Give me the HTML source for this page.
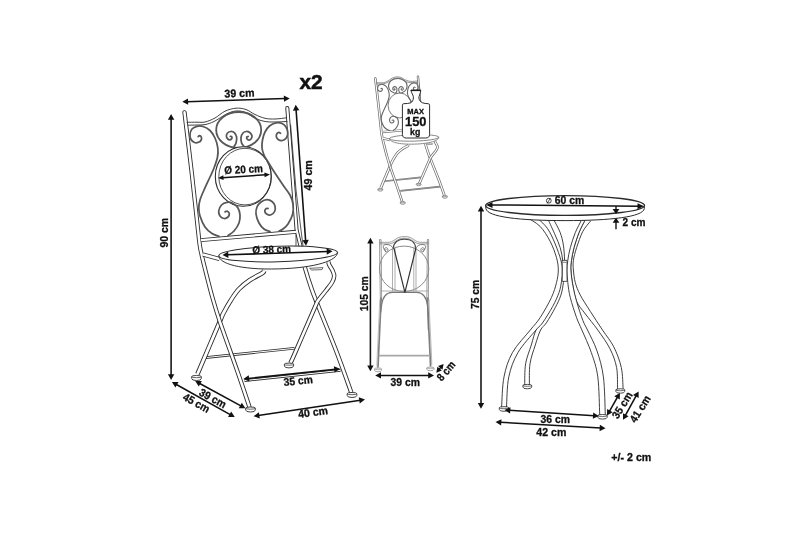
<!DOCTYPE html>
<html><head><meta charset="utf-8"><title>Dimensions</title>
<style>
html,body{margin:0;padding:0;background:#fff;}
body{width:800px;height:533px;overflow:hidden;}
svg{display:block;will-change:transform;}
svg text{font-family:"Liberation Sans",sans-serif;}
</style></head><body>
<svg width="800" height="533" viewBox="0 0 800 533">
<rect width="800" height="533" fill="#fff"/>
<path d="M205.5,357.6 L294.5,348.3" fill="none" stroke="#2b2b2b" stroke-width="2.6" stroke-linecap="butt" stroke-linejoin="round"/>
<path d="M205.5,357.6 L294.5,348.3" fill="none" stroke="#fff" stroke-width="1.0" stroke-linecap="butt" stroke-linejoin="round"/>
<path d="M244.5,380.6 L340.5,370.4" fill="none" stroke="#2b2b2b" stroke-width="2.6" stroke-linecap="butt" stroke-linejoin="round"/>
<path d="M244.5,380.6 L340.5,370.4" fill="none" stroke="#fff" stroke-width="1.0" stroke-linecap="butt" stroke-linejoin="round"/>
<path d="M304.00,262.00 C304.17,263.00 303.67,263.33 305.00,268.00 C306.33,272.67 309.67,283.33 312.00,290.00 C314.33,296.67 314.83,297.50 319.00,308.00 C323.17,318.50 331.62,338.92 337.00,353.00 C342.38,367.08 348.92,385.92 351.30,392.50" fill="none" stroke="#2b2b2b" stroke-width="4.4" stroke-linecap="butt" stroke-linejoin="round"/>
<path d="M304.00,262.00 C304.17,263.00 303.67,263.33 305.00,268.00 C306.33,272.67 309.67,283.33 312.00,290.00 C314.33,296.67 314.83,297.50 319.00,308.00 C323.17,318.50 331.62,338.92 337.00,353.00 C342.38,367.08 348.92,385.92 351.30,392.50" fill="none" stroke="#fff" stroke-width="2.6000000000000005" stroke-linecap="butt" stroke-linejoin="round"/>
<path d="M347.20,393.60 L347.20,395.50 A4.8,2.00 0 0 0 356.80,395.50 L356.80,393.60 A4.8,1.10 0 0 0 347.20,393.60 Z" fill="#fff" stroke="#2b2b2b" stroke-width="0.9"/>
<path d="M347.20,393.60 A4.8,1.10 0 0 0 356.80,393.60" fill="none" stroke="#2b2b2b" stroke-width="0.72"/>
<path d="M328.30,262.00 C328.47,262.50 328.60,263.58 329.30,265.00 C330.00,266.42 331.68,268.67 332.50,270.50 C333.32,272.33 334.28,274.00 334.20,276.00 C334.12,278.00 333.37,280.08 332.00,282.50 C330.63,284.92 328.25,287.58 326.00,290.50 C323.75,293.42 320.33,297.25 318.50,300.00 C316.67,302.75 318.92,298.17 315.00,307.00 C311.08,315.83 299.08,343.67 295.00,353.00 C290.92,362.33 291.25,361.33 290.50,363.00" fill="none" stroke="#2b2b2b" stroke-width="4.4" stroke-linecap="butt" stroke-linejoin="round"/>
<path d="M328.30,262.00 C328.47,262.50 328.60,263.58 329.30,265.00 C330.00,266.42 331.68,268.67 332.50,270.50 C333.32,272.33 334.28,274.00 334.20,276.00 C334.12,278.00 333.37,280.08 332.00,282.50 C330.63,284.92 328.25,287.58 326.00,290.50 C323.75,293.42 320.33,297.25 318.50,300.00 C316.67,302.75 318.92,298.17 315.00,307.00 C311.08,315.83 299.08,343.67 295.00,353.00 C290.92,362.33 291.25,361.33 290.50,363.00" fill="none" stroke="#fff" stroke-width="2.6000000000000005" stroke-linecap="butt" stroke-linejoin="round"/>
<path d="M284.40,364.16 L284.40,365.98 A4.6,1.92 0 0 0 293.60,365.98 L293.60,364.16 A4.6,1.06 0 0 0 284.40,364.16 Z" fill="#fff" stroke="#2b2b2b" stroke-width="0.9"/>
<path d="M284.40,364.16 A4.6,1.06 0 0 0 293.60,364.16" fill="none" stroke="#2b2b2b" stroke-width="0.72"/>
<path d="M264.00,270.50 C263.75,270.92 264.83,271.42 262.50,273.00 C260.17,274.58 253.92,277.33 250.00,280.00 C246.08,282.67 242.17,285.67 239.00,289.00 C235.83,292.33 233.58,296.00 231.00,300.00 C228.42,304.00 225.33,309.50 223.50,313.00 C221.67,316.50 224.33,310.83 220.00,321.00 C215.67,331.17 201.25,365.17 197.50,374.00" fill="none" stroke="#2b2b2b" stroke-width="4.6" stroke-linecap="butt" stroke-linejoin="round"/>
<path d="M264.00,270.50 C263.75,270.92 264.83,271.42 262.50,273.00 C260.17,274.58 253.92,277.33 250.00,280.00 C246.08,282.67 242.17,285.67 239.00,289.00 C235.83,292.33 233.58,296.00 231.00,300.00 C228.42,304.00 225.33,309.50 223.50,313.00 C221.67,316.50 224.33,310.83 220.00,321.00 C215.67,331.17 201.25,365.17 197.50,374.00" fill="none" stroke="#fff" stroke-width="2.8" stroke-linecap="butt" stroke-linejoin="round"/>
<path d="M191.70,376.60 L191.70,378.50 A4.8,2.00 0 0 0 201.30,378.50 L201.30,376.60 A4.8,1.10 0 0 0 191.70,376.60 Z" fill="#fff" stroke="#2b2b2b" stroke-width="0.9"/>
<path d="M191.70,376.60 A4.8,1.10 0 0 0 201.30,376.60" fill="none" stroke="#2b2b2b" stroke-width="0.72"/>
<path d="M184.50,112.30 C185.75,122.75 189.58,153.88 192.00,175.00 C194.42,196.12 197.42,225.83 199.00,239.00 C200.58,252.17 200.45,248.83 201.50,254.00 C202.55,259.17 203.50,262.83 205.30,270.00 C207.10,277.17 209.85,288.33 212.30,297.00 C214.75,305.67 215.72,309.33 220.00,322.00 C224.28,334.67 233.12,358.92 238.00,373.00 C242.88,387.08 247.42,400.92 249.30,406.50" fill="none" stroke="#2b2b2b" stroke-width="4.3" stroke-linecap="round" stroke-linejoin="round"/>
<path d="M184.50,112.30 C185.75,122.75 189.58,153.88 192.00,175.00 C194.42,196.12 197.42,225.83 199.00,239.00 C200.58,252.17 200.45,248.83 201.50,254.00 C202.55,259.17 203.50,262.83 205.30,270.00 C207.10,277.17 209.85,288.33 212.30,297.00 C214.75,305.67 215.72,309.33 220.00,322.00 C224.28,334.67 233.12,358.92 238.00,373.00 C242.88,387.08 247.42,400.92 249.30,406.50" fill="none" stroke="#fff" stroke-width="2.5" stroke-linecap="round" stroke-linejoin="round"/>
<path d="M245.70,408.10 L245.70,410.00 A4.8,2.00 0 0 0 255.30,410.00 L255.30,408.10 A4.8,1.10 0 0 0 245.70,408.10 Z" fill="#fff" stroke="#2b2b2b" stroke-width="0.9"/>
<path d="M245.70,408.10 A4.8,1.10 0 0 0 255.30,408.10" fill="none" stroke="#2b2b2b" stroke-width="0.72"/>
<path d="M287.3,108 L296.6,230 L300.5,246" fill="none" stroke="#2b2b2b" stroke-width="4.0" stroke-linecap="round" stroke-linejoin="round"/>
<path d="M287.3,108 L296.6,230 L300.5,246" fill="none" stroke="#fff" stroke-width="2.2" stroke-linecap="round" stroke-linejoin="round"/>
<path d="M290.6,125 L296,190 L300.9,229 L303,246" fill="none" stroke="#2b2b2b" stroke-width="0.8" stroke-linecap="round" stroke-linejoin="round"/>
<path d="M201,240.1 L296,231.8" fill="none" stroke="#2b2b2b" stroke-width="3.9" stroke-linecap="butt" stroke-linejoin="round"/>
<path d="M201,240.1 L296,231.8" fill="none" stroke="#fff" stroke-width="2.3" stroke-linecap="butt" stroke-linejoin="round"/>
<path d="M203,254.5 L219.5,259" fill="none" stroke="#2b2b2b" stroke-width="4.2" stroke-linecap="butt" stroke-linejoin="round"/>
<path d="M203,254.5 L219.5,259" fill="none" stroke="#fff" stroke-width="2.6" stroke-linecap="butt" stroke-linejoin="round"/>
<path d="M296,235 L296,246" fill="none" stroke="#2b2b2b" stroke-width="0.8" stroke-linecap="round" stroke-linejoin="round"/>
<g transform="rotate(-1.6 278 256)">
<path d="M218.9,254 C218.9,262 240,268.9 278,268.9 C316,268.9 337.5,262 337.5,254 Z" fill="#fff" stroke="#2b2b2b" stroke-width="0.95"/>
<ellipse cx="278.2" cy="254" rx="59.3" ry="7.7" fill="#fff" stroke="#2b2b2b" stroke-width="1.0"/>
</g>
<path d="M310,268.3 L323,267.6 L322,269.6 L312,270 Z" fill="none" stroke="#2b2b2b" stroke-width="0.7" stroke-linecap="round" stroke-linejoin="round"/>
<path d="M187.00,122.30 C188.67,122.28 194.00,122.25 197.00,122.20 C200.00,122.15 202.00,122.70 205.00,122.00 C208.00,121.30 211.67,119.80 215.00,118.00 C218.33,116.20 221.50,112.83 225.00,111.20 C228.50,109.57 232.50,108.48 236.00,108.20 C239.50,107.92 242.83,108.45 246.00,109.50 C249.17,110.55 251.83,113.03 255.00,114.50 C258.17,115.97 261.67,117.55 265.00,118.30 C268.33,119.05 271.42,119.08 275.00,119.00 C278.58,118.92 284.58,118.00 286.50,117.80" fill="none" stroke="#2b2b2b" stroke-width="0.9" stroke-linecap="round" stroke-linejoin="round"/>
<path d="M188.00,125.20 C189.50,125.17 194.17,125.10 197.00,125.00 C199.83,124.90 202.17,125.18 205.00,124.60 C207.83,124.02 210.33,123.30 214.00,121.50 C217.67,119.70 223.33,115.55 227.00,113.80 C230.67,112.05 233.00,111.25 236.00,111.00 C239.00,110.75 241.83,111.08 245.00,112.30 C248.17,113.52 251.67,116.77 255.00,118.30 C258.33,119.83 261.67,120.88 265.00,121.50 C268.33,122.12 271.33,122.00 275.00,122.00 C278.67,122.00 285.00,121.58 287.00,121.50" fill="none" stroke="#2b2b2b" stroke-width="0.9" stroke-linecap="round" stroke-linejoin="round"/>
<ellipse cx="238.7" cy="130" rx="22.5" ry="18" fill="none" stroke="#575757" stroke-width="1.8"/>
<ellipse cx="243.3" cy="176.5" rx="28" ry="29.8" fill="#fff" stroke="#2b2b2b" stroke-width="1.1"/>
<ellipse cx="245" cy="176.6" rx="26.2" ry="28.3" fill="none" stroke="#2b2b2b" stroke-width="0.8"/>
<path d="M234.00,146.50 C234.33,145.92 235.57,144.58 236.00,143.00 C236.43,141.42 236.85,138.70 236.60,137.00 C236.35,135.30 235.43,133.72 234.50,132.80 C233.57,131.88 232.17,131.47 231.00,131.50 C229.83,131.53 228.27,132.20 227.50,133.00 C226.73,133.80 226.35,135.30 226.40,136.30 C226.45,137.30 227.20,138.42 227.80,139.00 C228.40,139.58 229.33,139.88 230.00,139.80 C230.67,139.72 231.53,139.03 231.80,138.50 C232.07,137.97 231.85,136.95 231.60,136.60 C231.35,136.25 230.52,136.43 230.30,136.40" fill="none" stroke="#575757" stroke-width="1.75" stroke-linecap="round" stroke-linejoin="round"/>
<path d="M244.00,146.30 C243.60,145.75 242.10,144.47 241.60,143.00 C241.10,141.53 240.77,139.17 241.00,137.50 C241.23,135.83 242.12,134.00 243.00,133.00 C243.88,132.00 245.13,131.53 246.30,131.50 C247.47,131.47 249.05,132.05 250.00,132.80 C250.95,133.55 251.83,134.97 252.00,136.00 C252.17,137.03 251.50,138.33 251.00,139.00 C250.50,139.67 249.67,140.00 249.00,140.00 C248.33,140.00 247.37,139.50 247.00,139.00 C246.63,138.50 246.60,137.42 246.80,137.00 C247.00,136.58 247.97,136.58 248.20,136.50" fill="none" stroke="#575757" stroke-width="1.75" stroke-linecap="round" stroke-linejoin="round"/>
<path d="M198.20,136.60 C198.42,136.43 198.98,135.53 199.50,135.60 C200.02,135.67 201.02,136.27 201.30,137.00 C201.58,137.73 201.67,139.12 201.20,140.00 C200.73,140.88 199.62,141.88 198.50,142.30 C197.38,142.72 195.75,142.97 194.50,142.50 C193.25,142.03 191.75,140.83 191.00,139.50 C190.25,138.17 189.83,136.25 190.00,134.50 C190.17,132.75 190.83,130.37 192.00,129.00 C193.17,127.63 195.17,126.72 197.00,126.30 C198.83,125.88 200.83,125.80 203.00,126.50 C205.17,127.20 208.00,128.58 210.00,130.50 C212.00,132.42 213.70,135.08 215.00,138.00 C216.30,140.92 217.38,144.83 217.80,148.00 C218.22,151.17 218.13,153.67 217.50,157.00 C216.87,160.33 215.25,164.67 214.00,168.00 C212.75,171.33 211.67,173.33 210.00,177.00 C208.33,180.67 205.67,186.17 204.00,190.00 C202.33,193.83 200.87,197.00 200.00,200.00 C199.13,203.00 198.80,205.33 198.80,208.00 C198.80,210.67 198.97,212.83 200.00,216.00 C201.03,219.17 203.00,224.08 205.00,227.00 C207.00,229.92 209.67,231.95 212.00,233.50 C214.33,235.05 217.83,235.83 219.00,236.30" fill="none" stroke="#575757" stroke-width="1.75" stroke-linecap="round" stroke-linejoin="round"/>
<path d="M228.00,235.60 C229.00,234.83 232.17,233.10 234.00,231.00 C235.83,228.90 238.00,225.67 239.00,223.00 C240.00,220.33 240.17,217.50 240.00,215.00 C239.83,212.50 239.17,209.92 238.00,208.00 C236.83,206.08 234.83,204.45 233.00,203.50 C231.17,202.55 228.92,202.05 227.00,202.30 C225.08,202.55 222.88,203.55 221.50,205.00 C220.12,206.45 218.95,209.17 218.70,211.00 C218.45,212.83 219.12,214.75 220.00,216.00 C220.88,217.25 222.67,218.33 224.00,218.50 C225.33,218.67 227.12,217.83 228.00,217.00 C228.88,216.17 229.42,214.47 229.30,213.50 C229.18,212.53 228.02,211.48 227.30,211.20 C226.58,210.92 225.38,211.70 225.00,211.80" fill="none" stroke="#575757" stroke-width="1.75" stroke-linecap="round" stroke-linejoin="round"/>
<path d="M280.50,133.30 C280.25,133.13 279.58,132.27 279.00,132.30 C278.42,132.33 277.45,132.80 277.00,133.50 C276.55,134.20 276.05,135.45 276.30,136.50 C276.55,137.55 277.47,139.13 278.50,139.80 C279.53,140.47 281.20,140.80 282.50,140.50 C283.80,140.20 285.42,139.25 286.30,138.00 C287.18,136.75 287.85,134.83 287.80,133.00 C287.75,131.17 286.97,128.58 286.00,127.00 C285.03,125.42 283.67,124.20 282.00,123.50 C280.33,122.80 278.08,122.38 276.00,122.80 C273.92,123.22 271.33,124.47 269.50,126.00 C267.67,127.53 266.17,129.67 265.00,132.00 C263.83,134.33 263.00,137.33 262.50,140.00 C262.00,142.67 261.75,145.50 262.00,148.00 C262.25,150.50 263.08,152.83 264.00,155.00 C264.92,157.17 266.00,158.50 267.50,161.00 C269.00,163.50 270.42,166.00 273.00,170.00 C275.58,174.00 280.17,180.83 283.00,185.00 C285.83,189.17 288.33,191.83 290.00,195.00 C291.67,198.17 292.55,200.83 293.00,204.00 C293.45,207.17 293.53,210.67 292.70,214.00 C291.87,217.33 289.62,221.50 288.00,224.00 C286.38,226.50 284.50,227.80 283.00,229.00 C281.50,230.20 279.67,230.83 279.00,231.20" fill="none" stroke="#575757" stroke-width="1.75" stroke-linecap="round" stroke-linejoin="round"/>
<path d="M270.00,231.60 C269.00,231.17 265.83,230.43 264.00,229.00 C262.17,227.57 260.33,225.50 259.00,223.00 C257.67,220.50 256.33,216.67 256.00,214.00 C255.67,211.33 256.17,209.00 257.00,207.00 C257.83,205.00 259.33,203.23 261.00,202.00 C262.67,200.77 265.17,199.68 267.00,199.60 C268.83,199.52 270.67,200.43 272.00,201.50 C273.33,202.57 274.57,204.33 275.00,206.00 C275.43,207.67 275.27,210.03 274.60,211.50 C273.93,212.97 272.27,214.33 271.00,214.80 C269.73,215.27 268.03,214.85 267.00,214.30 C265.97,213.75 265.00,212.42 264.80,211.50 C264.60,210.58 265.27,209.30 265.80,208.80 C266.33,208.30 267.63,208.55 268.00,208.50" fill="none" stroke="#575757" stroke-width="1.75" stroke-linecap="round" stroke-linejoin="round"/>
<line x1="186.94" y1="101.65" x2="285.06" y2="98.55" stroke="#111" stroke-width="1.55"/>
<polygon points="182.30,101.80 188.20,104.81 188.00,98.42" fill="#111"/>
<polygon points="289.70,98.40 284.00,101.78 283.80,95.39" fill="#111"/>
<text x="239.6" y="97" font-size="11" font-weight="bold" text-anchor="middle" fill="#111" stroke="#111" stroke-width="0.3" textLength="30" lengthAdjust="spacingAndGlyphs" transform="rotate(-2 239.6 97)">39 cm</text>
<text x="299.4" y="89" font-size="19.8" font-weight="bold" fill="#111" stroke="#111" stroke-width="0.5" textLength="23.2" lengthAdjust="spacingAndGlyphs">x2</text>
<line x1="296.04" y1="109.43" x2="305.66" y2="241.17" stroke="#111" stroke-width="1.55"/>
<polygon points="295.70,104.80 292.93,110.82 299.31,110.35" fill="#111"/>
<polygon points="306.00,245.80 302.39,240.25 308.77,239.78" fill="#111"/>
<text x="312" y="175.3" font-size="11" font-weight="bold" text-anchor="middle" fill="#111" stroke="#111" stroke-width="0.3" textLength="30.3" lengthAdjust="spacingAndGlyphs" transform="rotate(-90 312 175.3)">49 cm</text>
<line x1="171.10" y1="118.54" x2="171.10" y2="375.36" stroke="#111" stroke-width="1.55"/>
<polygon points="171.10,113.90 167.90,119.70 174.30,119.70" fill="#111"/>
<polygon points="171.10,380.00 167.90,374.20 174.30,374.20" fill="#111"/>
<text x="168.4" y="232.7" font-size="11" font-weight="bold" text-anchor="middle" fill="#111" stroke="#111" stroke-width="0.3" textLength="29.6" lengthAdjust="spacingAndGlyphs" transform="rotate(-90 168.4 232.7)">90 cm</text>
<line x1="222.39" y1="177.70" x2="265.61" y2="174.80" stroke="#111" stroke-width="1.55"/>
<polygon points="218.00,178.00 223.65,180.03 223.33,175.24" fill="#111"/>
<polygon points="270.00,174.50 264.67,177.26 264.35,172.47" fill="#111"/>
<text x="243.8" y="173" font-size="10.8" font-weight="bold" text-anchor="middle" fill="#111" stroke="#111" stroke-width="0.3" textLength="38.5" lengthAdjust="spacingAndGlyphs" transform="rotate(-3 243.8 173)">Ø 20 cm</text>
<line x1="227.14" y1="254.84" x2="327.86" y2="251.46" stroke="#111" stroke-width="1.55"/>
<polygon points="222.50,255.00 228.40,258.00 228.19,251.61" fill="#111"/>
<polygon points="332.50,251.30 326.81,254.69 326.60,248.30" fill="#111"/>
<text x="271.8" y="253.2" font-size="10.8" font-weight="bold" text-anchor="middle" fill="#111" stroke="#111" stroke-width="0.3" textLength="38.5" lengthAdjust="spacingAndGlyphs" transform="rotate(-2 271.8 253.2)">Ø 38 cm</text>
<line x1="247.91" y1="378.51" x2="335.39" y2="369.29" stroke="#111" stroke-width="1.55"/>
<polygon points="243.30,379.00 249.40,381.57 248.73,375.21" fill="#111"/>
<polygon points="340.00,368.80 334.57,372.59 333.90,366.23" fill="#111"/>
<text x="298.5" y="384.6" font-size="11" font-weight="bold" text-anchor="middle" fill="#111" stroke="#111" stroke-width="0.3" textLength="29.3" lengthAdjust="spacingAndGlyphs" transform="rotate(-5.6 298.5 384.6)">35 cm</text>
<line x1="199.28" y1="383.22" x2="241.32" y2="406.08" stroke="#111" stroke-width="1.55"/>
<polygon points="195.20,381.00 198.77,386.58 201.82,380.96" fill="#111"/>
<polygon points="245.40,408.30 238.78,408.34 241.83,402.72" fill="#111"/>
<text x="211" y="401.6" font-size="11" font-weight="bold" text-anchor="middle" fill="#111" stroke="#111" stroke-width="0.3" textLength="29" lengthAdjust="spacingAndGlyphs" transform="rotate(28.5 211 401.6)">39 cm</text>
<line x1="175.95" y1="384.26" x2="230.65" y2="414.84" stroke="#111" stroke-width="1.55"/>
<polygon points="171.90,382.00 175.40,387.62 178.52,382.04" fill="#111"/>
<polygon points="234.70,417.10 228.08,417.06 231.20,411.48" fill="#111"/>
<text x="194.6" y="406.2" font-size="11" font-weight="bold" text-anchor="middle" fill="#111" stroke="#111" stroke-width="0.3" textLength="29" lengthAdjust="spacingAndGlyphs" transform="rotate(29 194.6 406.2)">45 cm</text>
<line x1="258.19" y1="415.51" x2="360.41" y2="400.19" stroke="#111" stroke-width="1.55"/>
<polygon points="253.60,416.20 259.81,418.50 258.86,412.18" fill="#111"/>
<polygon points="365.00,399.50 359.74,403.52 358.79,397.20" fill="#111"/>
<text x="313.5" y="416" font-size="11" font-weight="bold" text-anchor="middle" fill="#111" stroke="#111" stroke-width="0.3" textLength="30" lengthAdjust="spacingAndGlyphs" transform="rotate(-8 313.5 416)">40 cm</text>
<g transform="translate(298.75,31.6) scale(0.415,0.4185)">
<path d="M205.5,357.6 L294.5,348.3" fill="none" stroke="#6c6c6c" stroke-width="3.77" stroke-linecap="butt" stroke-linejoin="round"/>
<path d="M205.5,357.6 L294.5,348.3" fill="none" stroke="#fff" stroke-width="0.6499999999999999" stroke-linecap="butt" stroke-linejoin="round"/>
<path d="M244.5,380.6 L340.5,370.4" fill="none" stroke="#6c6c6c" stroke-width="3.77" stroke-linecap="butt" stroke-linejoin="round"/>
<path d="M244.5,380.6 L340.5,370.4" fill="none" stroke="#fff" stroke-width="0.6499999999999999" stroke-linecap="butt" stroke-linejoin="round"/>
<path d="M304.00,262.00 C304.17,263.00 303.67,263.33 305.00,268.00 C306.33,272.67 309.67,283.33 312.00,290.00 C314.33,296.67 314.83,297.50 319.00,308.00 C323.17,318.50 331.62,338.92 337.00,353.00 C342.38,367.08 348.92,385.92 351.30,392.50" fill="none" stroke="#6c6c6c" stroke-width="6.38" stroke-linecap="butt" stroke-linejoin="round"/>
<path d="M304.00,262.00 C304.17,263.00 303.67,263.33 305.00,268.00 C306.33,272.67 309.67,283.33 312.00,290.00 C314.33,296.67 314.83,297.50 319.00,308.00 C323.17,318.50 331.62,338.92 337.00,353.00 C342.38,367.08 348.92,385.92 351.30,392.50" fill="none" stroke="#fff" stroke-width="2.87" stroke-linecap="butt" stroke-linejoin="round"/>
<path d="M346.12,393.29 L346.12,395.61 A5.88,2.45 0 0 0 357.88,395.61 L357.88,393.29 A5.88,1.35 0 0 0 346.12,393.29 Z" fill="#fff" stroke="#6c6c6c" stroke-width="1.755"/>
<path d="M346.12,393.29 A5.88,1.35 0 0 0 357.88,393.29" fill="none" stroke="#6c6c6c" stroke-width="1.40"/>
<path d="M328.30,262.00 C328.47,262.50 328.60,263.58 329.30,265.00 C330.00,266.42 331.68,268.67 332.50,270.50 C333.32,272.33 334.28,274.00 334.20,276.00 C334.12,278.00 333.37,280.08 332.00,282.50 C330.63,284.92 328.25,287.58 326.00,290.50 C323.75,293.42 320.33,297.25 318.50,300.00 C316.67,302.75 318.92,298.17 315.00,307.00 C311.08,315.83 299.08,343.67 295.00,353.00 C290.92,362.33 291.25,361.33 290.50,363.00" fill="none" stroke="#6c6c6c" stroke-width="6.38" stroke-linecap="butt" stroke-linejoin="round"/>
<path d="M328.30,262.00 C328.47,262.50 328.60,263.58 329.30,265.00 C330.00,266.42 331.68,268.67 332.50,270.50 C333.32,272.33 334.28,274.00 334.20,276.00 C334.12,278.00 333.37,280.08 332.00,282.50 C330.63,284.92 328.25,287.58 326.00,290.50 C323.75,293.42 320.33,297.25 318.50,300.00 C316.67,302.75 318.92,298.17 315.00,307.00 C311.08,315.83 299.08,343.67 295.00,353.00 C290.92,362.33 291.25,361.33 290.50,363.00" fill="none" stroke="#fff" stroke-width="2.87" stroke-linecap="butt" stroke-linejoin="round"/>
<path d="M283.37,363.85 L283.37,366.09 A5.635,2.35 0 0 0 294.63,366.09 L294.63,363.85 A5.635,1.29 0 0 0 283.37,363.85 Z" fill="#fff" stroke="#6c6c6c" stroke-width="1.755"/>
<path d="M283.37,363.85 A5.635,1.29 0 0 0 294.63,363.85" fill="none" stroke="#6c6c6c" stroke-width="1.40"/>
<path d="M264.00,270.50 C263.75,270.92 264.83,271.42 262.50,273.00 C260.17,274.58 253.92,277.33 250.00,280.00 C246.08,282.67 242.17,285.67 239.00,289.00 C235.83,292.33 233.58,296.00 231.00,300.00 C228.42,304.00 225.33,309.50 223.50,313.00 C221.67,316.50 224.33,310.83 220.00,321.00 C215.67,331.17 201.25,365.17 197.50,374.00" fill="none" stroke="#6c6c6c" stroke-width="6.669999999999999" stroke-linecap="butt" stroke-linejoin="round"/>
<path d="M264.00,270.50 C263.75,270.92 264.83,271.42 262.50,273.00 C260.17,274.58 253.92,277.33 250.00,280.00 C246.08,282.67 242.17,285.67 239.00,289.00 C235.83,292.33 233.58,296.00 231.00,300.00 C228.42,304.00 225.33,309.50 223.50,313.00 C221.67,316.50 224.33,310.83 220.00,321.00 C215.67,331.17 201.25,365.17 197.50,374.00" fill="none" stroke="#fff" stroke-width="3.1599999999999993" stroke-linecap="butt" stroke-linejoin="round"/>
<path d="M190.62,376.29 L190.62,378.61 A5.88,2.45 0 0 0 202.38,378.61 L202.38,376.29 A5.88,1.35 0 0 0 190.62,376.29 Z" fill="#fff" stroke="#6c6c6c" stroke-width="1.755"/>
<path d="M190.62,376.29 A5.88,1.35 0 0 0 202.38,376.29" fill="none" stroke="#6c6c6c" stroke-width="1.40"/>
<path d="M184.50,112.30 C185.75,122.75 189.58,153.88 192.00,175.00 C194.42,196.12 197.42,225.83 199.00,239.00 C200.58,252.17 200.45,248.83 201.50,254.00 C202.55,259.17 203.50,262.83 205.30,270.00 C207.10,277.17 209.85,288.33 212.30,297.00 C214.75,305.67 215.72,309.33 220.00,322.00 C224.28,334.67 233.12,358.92 238.00,373.00 C242.88,387.08 247.42,400.92 249.30,406.50" fill="none" stroke="#6c6c6c" stroke-width="6.234999999999999" stroke-linecap="round" stroke-linejoin="round"/>
<path d="M184.50,112.30 C185.75,122.75 189.58,153.88 192.00,175.00 C194.42,196.12 197.42,225.83 199.00,239.00 C200.58,252.17 200.45,248.83 201.50,254.00 C202.55,259.17 203.50,262.83 205.30,270.00 C207.10,277.17 209.85,288.33 212.30,297.00 C214.75,305.67 215.72,309.33 220.00,322.00 C224.28,334.67 233.12,358.92 238.00,373.00 C242.88,387.08 247.42,400.92 249.30,406.50" fill="none" stroke="#fff" stroke-width="2.7249999999999996" stroke-linecap="round" stroke-linejoin="round"/>
<path d="M244.62,407.79 L244.62,410.11 A5.88,2.45 0 0 0 256.38,410.11 L256.38,407.79 A5.88,1.35 0 0 0 244.62,407.79 Z" fill="#fff" stroke="#6c6c6c" stroke-width="1.755"/>
<path d="M244.62,407.79 A5.88,1.35 0 0 0 256.38,407.79" fill="none" stroke="#6c6c6c" stroke-width="1.40"/>
<path d="M287.3,108 L296.6,230 L300.5,246" fill="none" stroke="#6c6c6c" stroke-width="5.8" stroke-linecap="round" stroke-linejoin="round"/>
<path d="M287.3,108 L296.6,230 L300.5,246" fill="none" stroke="#fff" stroke-width="2.29" stroke-linecap="round" stroke-linejoin="round"/>
<path d="M290.6,125 L296,190 L300.9,229 L303,246" fill="none" stroke="#6c6c6c" stroke-width="1.56" stroke-linecap="round" stroke-linejoin="round"/>
<path d="M201,240.1 L296,231.8" fill="none" stroke="#6c6c6c" stroke-width="5.654999999999999" stroke-linecap="butt" stroke-linejoin="round"/>
<path d="M201,240.1 L296,231.8" fill="none" stroke="#fff" stroke-width="2.5349999999999993" stroke-linecap="butt" stroke-linejoin="round"/>
<path d="M203,254.5 L219.5,259" fill="none" stroke="#6c6c6c" stroke-width="6.09" stroke-linecap="butt" stroke-linejoin="round"/>
<path d="M203,254.5 L219.5,259" fill="none" stroke="#fff" stroke-width="2.9699999999999998" stroke-linecap="butt" stroke-linejoin="round"/>
<path d="M296,235 L296,246" fill="none" stroke="#6c6c6c" stroke-width="1.56" stroke-linecap="round" stroke-linejoin="round"/>
<g transform="rotate(-1.6 278 256)">
<path d="M218.9,254 C218.9,262 240,268.9 278,268.9 C316,268.9 337.5,262 337.5,254 Z" fill="#fff" stroke="#6c6c6c" stroke-width="1.8524999999999998"/>
<ellipse cx="278.2" cy="254" rx="59.3" ry="7.7" fill="#fff" stroke="#6c6c6c" stroke-width="1.95"/>
</g>
<path d="M310,268.3 L323,267.6 L322,269.6 L312,270 Z" fill="none" stroke="#6c6c6c" stroke-width="1.365" stroke-linecap="round" stroke-linejoin="round"/>
<path d="M187.00,122.30 C188.67,122.28 194.00,122.25 197.00,122.20 C200.00,122.15 202.00,122.70 205.00,122.00 C208.00,121.30 211.67,119.80 215.00,118.00 C218.33,116.20 221.50,112.83 225.00,111.20 C228.50,109.57 232.50,108.48 236.00,108.20 C239.50,107.92 242.83,108.45 246.00,109.50 C249.17,110.55 251.83,113.03 255.00,114.50 C258.17,115.97 261.67,117.55 265.00,118.30 C268.33,119.05 271.42,119.08 275.00,119.00 C278.58,118.92 284.58,118.00 286.50,117.80" fill="none" stroke="#6c6c6c" stroke-width="1.755" stroke-linecap="round" stroke-linejoin="round"/>
<path d="M188.00,125.20 C189.50,125.17 194.17,125.10 197.00,125.00 C199.83,124.90 202.17,125.18 205.00,124.60 C207.83,124.02 210.33,123.30 214.00,121.50 C217.67,119.70 223.33,115.55 227.00,113.80 C230.67,112.05 233.00,111.25 236.00,111.00 C239.00,110.75 241.83,111.08 245.00,112.30 C248.17,113.52 251.67,116.77 255.00,118.30 C258.33,119.83 261.67,120.88 265.00,121.50 C268.33,122.12 271.33,122.00 275.00,122.00 C278.67,122.00 285.00,121.58 287.00,121.50" fill="none" stroke="#6c6c6c" stroke-width="1.755" stroke-linecap="round" stroke-linejoin="round"/>
<ellipse cx="238.7" cy="130" rx="22.5" ry="18" fill="none" stroke="#646464" stroke-width="2.7"/>
<ellipse cx="243.3" cy="176.5" rx="28" ry="29.8" fill="#fff" stroke="#6c6c6c" stroke-width="2.145"/>
<path d="M234.00,146.50 C234.33,145.92 235.57,144.58 236.00,143.00 C236.43,141.42 236.85,138.70 236.60,137.00 C236.35,135.30 235.43,133.72 234.50,132.80 C233.57,131.88 232.17,131.47 231.00,131.50 C229.83,131.53 228.27,132.20 227.50,133.00 C226.73,133.80 226.35,135.30 226.40,136.30 C226.45,137.30 227.20,138.42 227.80,139.00 C228.40,139.58 229.33,139.88 230.00,139.80 C230.67,139.72 231.53,139.03 231.80,138.50 C232.07,137.97 231.85,136.95 231.60,136.60 C231.35,136.25 230.52,136.43 230.30,136.40" fill="none" stroke="#646464" stroke-width="2.625" stroke-linecap="round" stroke-linejoin="round"/>
<path d="M244.00,146.30 C243.60,145.75 242.10,144.47 241.60,143.00 C241.10,141.53 240.77,139.17 241.00,137.50 C241.23,135.83 242.12,134.00 243.00,133.00 C243.88,132.00 245.13,131.53 246.30,131.50 C247.47,131.47 249.05,132.05 250.00,132.80 C250.95,133.55 251.83,134.97 252.00,136.00 C252.17,137.03 251.50,138.33 251.00,139.00 C250.50,139.67 249.67,140.00 249.00,140.00 C248.33,140.00 247.37,139.50 247.00,139.00 C246.63,138.50 246.60,137.42 246.80,137.00 C247.00,136.58 247.97,136.58 248.20,136.50" fill="none" stroke="#646464" stroke-width="2.625" stroke-linecap="round" stroke-linejoin="round"/>
<path d="M198.20,136.60 C198.42,136.43 198.98,135.53 199.50,135.60 C200.02,135.67 201.02,136.27 201.30,137.00 C201.58,137.73 201.67,139.12 201.20,140.00 C200.73,140.88 199.62,141.88 198.50,142.30 C197.38,142.72 195.75,142.97 194.50,142.50 C193.25,142.03 191.75,140.83 191.00,139.50 C190.25,138.17 189.83,136.25 190.00,134.50 C190.17,132.75 190.83,130.37 192.00,129.00 C193.17,127.63 195.17,126.72 197.00,126.30 C198.83,125.88 200.83,125.80 203.00,126.50 C205.17,127.20 208.00,128.58 210.00,130.50 C212.00,132.42 213.70,135.08 215.00,138.00 C216.30,140.92 217.38,144.83 217.80,148.00 C218.22,151.17 218.13,153.67 217.50,157.00 C216.87,160.33 215.25,164.67 214.00,168.00 C212.75,171.33 211.67,173.33 210.00,177.00 C208.33,180.67 205.67,186.17 204.00,190.00 C202.33,193.83 200.87,197.00 200.00,200.00 C199.13,203.00 198.80,205.33 198.80,208.00 C198.80,210.67 198.97,212.83 200.00,216.00 C201.03,219.17 203.00,224.08 205.00,227.00 C207.00,229.92 209.67,231.95 212.00,233.50 C214.33,235.05 217.83,235.83 219.00,236.30" fill="none" stroke="#646464" stroke-width="2.625" stroke-linecap="round" stroke-linejoin="round"/>
<path d="M228.00,235.60 C229.00,234.83 232.17,233.10 234.00,231.00 C235.83,228.90 238.00,225.67 239.00,223.00 C240.00,220.33 240.17,217.50 240.00,215.00 C239.83,212.50 239.17,209.92 238.00,208.00 C236.83,206.08 234.83,204.45 233.00,203.50 C231.17,202.55 228.92,202.05 227.00,202.30 C225.08,202.55 222.88,203.55 221.50,205.00 C220.12,206.45 218.95,209.17 218.70,211.00 C218.45,212.83 219.12,214.75 220.00,216.00 C220.88,217.25 222.67,218.33 224.00,218.50 C225.33,218.67 227.12,217.83 228.00,217.00 C228.88,216.17 229.42,214.47 229.30,213.50 C229.18,212.53 228.02,211.48 227.30,211.20 C226.58,210.92 225.38,211.70 225.00,211.80" fill="none" stroke="#646464" stroke-width="2.625" stroke-linecap="round" stroke-linejoin="round"/>
<path d="M280.50,133.30 C280.25,133.13 279.58,132.27 279.00,132.30 C278.42,132.33 277.45,132.80 277.00,133.50 C276.55,134.20 276.05,135.45 276.30,136.50 C276.55,137.55 277.47,139.13 278.50,139.80 C279.53,140.47 281.20,140.80 282.50,140.50 C283.80,140.20 285.42,139.25 286.30,138.00 C287.18,136.75 287.85,134.83 287.80,133.00 C287.75,131.17 286.97,128.58 286.00,127.00 C285.03,125.42 283.67,124.20 282.00,123.50 C280.33,122.80 278.08,122.38 276.00,122.80 C273.92,123.22 271.33,124.47 269.50,126.00 C267.67,127.53 266.17,129.67 265.00,132.00 C263.83,134.33 263.00,137.33 262.50,140.00 C262.00,142.67 261.75,145.50 262.00,148.00 C262.25,150.50 263.08,152.83 264.00,155.00 C264.92,157.17 266.00,158.50 267.50,161.00 C269.00,163.50 270.42,166.00 273.00,170.00 C275.58,174.00 280.17,180.83 283.00,185.00 C285.83,189.17 288.33,191.83 290.00,195.00 C291.67,198.17 292.55,200.83 293.00,204.00 C293.45,207.17 293.53,210.67 292.70,214.00 C291.87,217.33 289.62,221.50 288.00,224.00 C286.38,226.50 284.50,227.80 283.00,229.00 C281.50,230.20 279.67,230.83 279.00,231.20" fill="none" stroke="#646464" stroke-width="2.625" stroke-linecap="round" stroke-linejoin="round"/>
<path d="M270.00,231.60 C269.00,231.17 265.83,230.43 264.00,229.00 C262.17,227.57 260.33,225.50 259.00,223.00 C257.67,220.50 256.33,216.67 256.00,214.00 C255.67,211.33 256.17,209.00 257.00,207.00 C257.83,205.00 259.33,203.23 261.00,202.00 C262.67,200.77 265.17,199.68 267.00,199.60 C268.83,199.52 270.67,200.43 272.00,201.50 C273.33,202.57 274.57,204.33 275.00,206.00 C275.43,207.67 275.27,210.03 274.60,211.50 C273.93,212.97 272.27,214.33 271.00,214.80 C269.73,215.27 268.03,214.85 267.00,214.30 C265.97,213.75 265.00,212.42 264.80,211.50 C264.60,210.58 265.27,209.30 265.80,208.80 C266.33,208.30 267.63,208.55 268.00,208.50" fill="none" stroke="#646464" stroke-width="2.625" stroke-linecap="round" stroke-linejoin="round"/>
</g>
<path d="M410.8,90.3 L420.8,90.3 C420.6,92 420.1,93.5 419.6,95 C419.1,96.4 418.8,97 418.9,98 C419.1,100 420.4,102 422.5,102.8 C424,103.4 426,103.6 428.3,103.7 C429.2,103.8 429.6,104.3 429.6,105.2 L429.6,134.5 C429.6,137 428,138 425.5,138 L406.5,138 C404,138 402.4,137 402.4,134.5 L402.4,105.2 C402.4,104.3 402.8,103.8 403.7,103.7 C406,103.6 408.6,103.5 410.5,102.9 C412.3,102.2 413.3,100 413.4,98 C413.5,97 413.3,96.4 412.8,95 C412.2,93.5 411.2,92 410.8,90.3 Z" fill="#fff" stroke="#222" stroke-width="0.95" stroke-linejoin="round"/>
<line x1="411" y1="90.4" x2="420.6" y2="90.4" stroke="#1a1a1a" stroke-width="1.4"/>
<text x="415.6" y="113.6" font-size="6.6" font-weight="bold" text-anchor="middle" fill="#111" stroke="#111" stroke-width="0.3" textLength="16.5" lengthAdjust="spacingAndGlyphs">MAX</text>
<text x="415.7" y="126" font-size="12" font-weight="bold" text-anchor="middle" fill="#111" stroke="#111" stroke-width="0.3" textLength="21.4" lengthAdjust="spacingAndGlyphs">150</text>
<text x="415.2" y="135.2" font-size="8.2" font-weight="bold" text-anchor="middle" fill="#111" stroke="#111" stroke-width="0.3" textLength="10.2" lengthAdjust="spacingAndGlyphs">kg</text>
<path d="M380.3,240 L381,300" fill="none" stroke="#777" stroke-width="2.2" stroke-linecap="round" stroke-linejoin="round"/>
<path d="M380.3,240 L381,300" fill="none" stroke="#fff" stroke-width="0.8000000000000003" stroke-linecap="round" stroke-linejoin="round"/>
<path d="M428,240 L427.6,300" fill="none" stroke="#777" stroke-width="2.2" stroke-linecap="round" stroke-linejoin="round"/>
<path d="M428,240 L427.6,300" fill="none" stroke="#fff" stroke-width="0.8000000000000003" stroke-linecap="round" stroke-linejoin="round"/>
<path d="M381,298 L380.6,310 L378.4,358 L378,367" fill="none" stroke="#808080" stroke-width="1.7" stroke-linecap="round" stroke-linejoin="round"/>
<path d="M379.7,300 L379.3,310 L377.1,358 L376.8,366" fill="none" stroke="#aaa" stroke-width="0.7" stroke-linecap="round" stroke-linejoin="round"/>
<path d="M427.6,298 L427.9,310 L430.2,358 L430.5,366" fill="none" stroke="#808080" stroke-width="1.7" stroke-linecap="round" stroke-linejoin="round"/>
<path d="M429,300 L429.3,310 L431.6,358 L431.8,365" fill="none" stroke="#999" stroke-width="0.7" stroke-linecap="round" stroke-linejoin="round"/>
<path d="M374.60,368.84 L374.60,370.28 A3.4,1.52 0 0 0 381.40,370.28 L381.40,368.84 A3.4,0.84 0 0 0 374.60,368.84 Z" fill="#fff" stroke="#999" stroke-width="0.9"/>
<path d="M374.60,368.84 A3.4,0.84 0 0 0 381.40,368.84" fill="none" stroke="#999" stroke-width="0.72"/>
<path d="M426.80,367.89 L426.80,369.26 A3.6,1.44 0 0 0 434.00,369.26 L434.00,367.89 A3.6,0.79 0 0 0 426.80,367.89 Z" fill="#fff" stroke="#999" stroke-width="0.9"/>
<path d="M426.80,367.89 A3.6,0.79 0 0 0 434.00,367.89" fill="none" stroke="#999" stroke-width="0.72"/>
<path d="M379.5,355.6 L429.3,355.6" fill="none" stroke="#a8a8a8" stroke-width="1.8" stroke-linecap="round" stroke-linejoin="round"/>
<path d="M380,242.3 L389,242.3 C393,242 395,239.2 398.5,237.5 C402,236.2 407,236.2 410.5,237.5 C414,239.2 416,242 420,242.3 L428,242.3" fill="none" stroke="#777" stroke-width="0.7" stroke-linecap="round" stroke-linejoin="round"/>
<path d="M380,243.9 L389.3,243.9 C393.5,243.6 395.5,240.8 399,239.1 C402,237.9 407,237.9 410,239.1 C413.5,240.8 415.5,243.6 419.7,243.9 L428,243.9" fill="none" stroke="#777" stroke-width="0.7" stroke-linecap="round" stroke-linejoin="round"/>
<path d="M393.4,248.3 C393.4,242.5 398,239.2 404.4,239.2 C411,239.2 415.5,242.5 415.5,248.3" fill="none" stroke="#4a4a4a" stroke-width="1.3" stroke-linecap="round" stroke-linejoin="round"/>
<path d="M392.5,248 L392.5,291 M395,248 L395,291 M413.8,248 L413.8,291 M416,248 L416,291" fill="none" stroke="#777" stroke-width="0.6" stroke-linecap="round" stroke-linejoin="round"/>
<ellipse cx="404.1" cy="268.8" rx="24.7" ry="22.7" fill="none" stroke="#8a8a8a" stroke-width="1"/>
<path d="M381.3,291 L427.5,291" fill="none" stroke="#999" stroke-width="0.8" stroke-linecap="round" stroke-linejoin="round"/>
<path d="M380.7,312 L381.6,305 C382.6,298 386,292.6 392,292.4 L417,292.4 C423,292.6 426.4,298 427.4,305 C428.2,310 428.2,318 428.4,330" fill="none" stroke="#777" stroke-width="1.2" stroke-linecap="round" stroke-linejoin="round"/>
<path d="M386.10,249.40 L386.17,249.53 L386.19,249.70 L386.13,249.89 L385.98,250.06 L385.75,250.18 L385.47,250.21 L385.16,250.13 L384.88,249.93 L384.66,249.63 L384.55,249.24 L384.59,248.80 L384.77,248.37 L385.12,248.01 L385.59,247.77 L386.14,247.70 L386.72,247.81 L387.25,248.13 L387.67,248.63 L387.92,249.26 L387.94,249.97 L387.72,250.68 L387.27,251.31 L386.60,251.77 L385.80,252.00 C381.8,246.5 383,244.8 386,244.5 C389.5,244.3 392,246 393.3,248.2" fill="none" stroke="#777" stroke-width="1.0" stroke-linecap="round" stroke-linejoin="round"/>
<path d="M422.70,249.40 L422.63,249.53 L422.61,249.70 L422.67,249.89 L422.82,250.06 L423.05,250.18 L423.33,250.21 L423.64,250.13 L423.92,249.93 L424.14,249.63 L424.25,249.24 L424.21,248.80 L424.03,248.37 L423.68,248.01 L423.21,247.77 L422.66,247.70 L422.08,247.81 L421.55,248.13 L421.13,248.63 L420.88,249.26 L420.86,249.97 L421.08,250.68 L421.53,251.31 L422.20,251.77 L423.00,252.00 C427,246.5 425.8,244.8 422.8,244.5 C419.3,244.3 417,246 415.6,248.2" fill="none" stroke="#777" stroke-width="1.0" stroke-linecap="round" stroke-linejoin="round"/>
<path d="M394,248.5 L404.9,292.3 L415.8,248.5" fill="none" stroke="#333" stroke-width="1.2" stroke-linecap="round" stroke-linejoin="round"/>
<line x1="370.40" y1="242.44" x2="370.40" y2="366.56" stroke="#111" stroke-width="1.55"/>
<polygon points="370.40,237.80 367.20,243.60 373.60,243.60" fill="#111"/>
<polygon points="370.40,371.20 367.20,365.40 373.60,365.40" fill="#111"/>
<text x="368" y="293.8" font-size="11" font-weight="bold" text-anchor="middle" fill="#111" stroke="#111" stroke-width="0.3" textLength="35" lengthAdjust="spacingAndGlyphs" transform="rotate(-90 368 293.8)">105 cm</text>
<line x1="379.84" y1="375.40" x2="429.36" y2="375.40" stroke="#111" stroke-width="1.55"/>
<polygon points="375.20,375.40 381.00,378.60 381.00,372.20" fill="#111"/>
<polygon points="434.00,375.40 428.20,378.60 428.20,372.20" fill="#111"/>
<text x="405.3" y="385.8" font-size="11" font-weight="bold" text-anchor="middle" fill="#111" stroke="#111" stroke-width="0.3" textLength="29.5" lengthAdjust="spacingAndGlyphs">39 cm</text>
<line x1="438.96" y1="369.50" x2="440.94" y2="367.10" stroke="#111" stroke-width="1.4"/>
<polygon points="436.30,372.70 441.85,370.55 437.39,366.85" fill="#111"/>
<polygon points="443.60,363.90 442.51,369.75 438.05,366.05" fill="#111"/>
<text x="448.9" y="373.4" font-size="11" font-weight="bold" text-anchor="middle" fill="#111" stroke="#111" stroke-width="0.3" textLength="22" lengthAdjust="spacingAndGlyphs" transform="rotate(-50 448.9 373.4)">8 cm</text>
<path d="M584.70,220.70 C583.75,222.68 580.78,228.10 579.00,232.60 C577.22,237.10 575.25,243.08 574.00,247.70 C572.75,252.32 572.02,256.58 571.50,260.30 C570.98,264.02 570.68,265.87 570.90,270.00 C571.12,274.13 571.85,279.87 572.80,285.10 C573.75,290.33 574.50,296.58 576.60,301.40 C578.70,306.22 581.87,309.23 585.40,314.00 C588.93,318.77 593.70,324.20 597.80,330.00 C601.90,335.80 606.87,342.55 610.00,348.80 C613.13,355.05 615.35,360.88 616.60,367.50 C617.85,374.12 617.35,385.00 617.50,388.50 L623.10,388.50 C622.80,385.00 622.85,374.43 621.30,367.50 C619.75,360.57 616.93,353.15 613.80,346.90 C610.67,340.65 606.40,335.90 602.50,330.00 C598.60,324.10 594.10,317.32 590.40,311.50 C586.70,305.68 582.82,299.92 580.30,295.10 C577.78,290.28 576.45,286.78 575.30,282.60 C574.15,278.42 573.72,273.72 573.40,270.00 C573.08,266.28 572.87,264.02 573.40,260.30 C573.93,256.58 575.03,252.52 576.60,247.70 C578.17,242.88 580.50,235.80 582.80,231.40 C585.10,227.00 589.13,222.98 590.40,221.30 Z" fill="#fff" stroke="none"/>
<path d="M584.70,220.70 C583.75,222.68 580.78,228.10 579.00,232.60 C577.22,237.10 575.25,243.08 574.00,247.70 C572.75,252.32 572.02,256.58 571.50,260.30 C570.98,264.02 570.68,265.87 570.90,270.00 C571.12,274.13 571.85,279.87 572.80,285.10 C573.75,290.33 574.50,296.58 576.60,301.40 C578.70,306.22 581.87,309.23 585.40,314.00 C588.93,318.77 593.70,324.20 597.80,330.00 C601.90,335.80 606.87,342.55 610.00,348.80 C613.13,355.05 615.35,360.88 616.60,367.50 C617.85,374.12 617.35,385.00 617.50,388.50" fill="none" stroke="#2b2b2b" stroke-width="0.9" stroke-linecap="round"/>
<path d="M590.40,221.30 C589.13,222.98 585.10,227.00 582.80,231.40 C580.50,235.80 578.17,242.88 576.60,247.70 C575.03,252.52 573.93,256.58 573.40,260.30 C572.87,264.02 573.08,266.28 573.40,270.00 C573.72,273.72 574.15,278.42 575.30,282.60 C576.45,286.78 577.78,290.28 580.30,295.10 C582.82,299.92 586.70,305.68 590.40,311.50 C594.10,317.32 598.60,324.10 602.50,330.00 C606.40,335.90 610.67,340.65 613.80,346.90 C616.93,353.15 619.75,360.57 621.30,367.50 C622.85,374.43 622.80,385.00 623.10,388.50" fill="none" stroke="#2b2b2b" stroke-width="0.9" stroke-linecap="round"/>
<path d="M615.90,389.77 L615.90,391.44 A4.4,1.76 0 0 0 624.70,391.44 L624.70,389.77 A4.4,0.97 0 0 0 615.90,389.77 Z" fill="#fff" stroke="#2b2b2b" stroke-width="0.85"/>
<path d="M615.90,389.77 A4.4,0.97 0 0 0 624.70,389.77" fill="none" stroke="#2b2b2b" stroke-width="0.68"/>
<path d="M548.30,220.00 C549.45,222.52 553.22,230.48 555.20,235.10 C557.18,239.72 558.95,243.50 560.20,247.70 C561.45,251.90 562.32,256.58 562.70,260.30 C563.08,264.02 562.95,266.28 562.50,270.00 C562.05,273.72 561.00,278.43 560.00,282.60 C559.00,286.77 558.08,290.82 556.50,295.00 C554.92,299.18 552.92,303.07 550.50,307.70 C548.08,312.33 544.42,319.08 542.00,322.80 C539.58,326.52 537.78,326.30 536.00,330.00 C534.22,333.70 533.03,339.37 531.30,345.00 C529.57,350.63 526.70,357.20 525.60,363.80 C524.50,370.40 524.85,381.13 524.70,384.60 L529.40,384.60 C529.50,381.13 529.02,370.40 530.00,363.80 C530.98,357.20 533.53,350.63 535.30,345.00 C537.07,339.37 538.75,333.70 540.60,330.00 C542.45,326.30 543.97,326.52 546.40,322.80 C548.83,319.08 552.78,312.32 555.20,307.70 C557.62,303.08 559.53,299.28 560.90,295.10 C562.27,290.92 562.80,286.78 563.40,282.60 C564.00,278.42 564.30,273.72 564.50,270.00 C564.70,266.28 564.78,264.43 564.60,260.30 C564.42,256.17 564.13,249.82 563.40,245.20 C562.67,240.58 561.78,236.80 560.20,232.60 C558.62,228.40 554.95,222.10 553.90,220.00 Z" fill="#fff" stroke="none"/>
<path d="M548.30,220.00 C549.45,222.52 553.22,230.48 555.20,235.10 C557.18,239.72 558.95,243.50 560.20,247.70 C561.45,251.90 562.32,256.58 562.70,260.30 C563.08,264.02 562.95,266.28 562.50,270.00 C562.05,273.72 561.00,278.43 560.00,282.60 C559.00,286.77 558.08,290.82 556.50,295.00 C554.92,299.18 552.92,303.07 550.50,307.70 C548.08,312.33 544.42,319.08 542.00,322.80 C539.58,326.52 537.78,326.30 536.00,330.00 C534.22,333.70 533.03,339.37 531.30,345.00 C529.57,350.63 526.70,357.20 525.60,363.80 C524.50,370.40 524.85,381.13 524.70,384.60" fill="none" stroke="#2b2b2b" stroke-width="0.9" stroke-linecap="round"/>
<path d="M553.90,220.00 C554.95,222.10 558.62,228.40 560.20,232.60 C561.78,236.80 562.67,240.58 563.40,245.20 C564.13,249.82 564.42,256.17 564.60,260.30 C564.78,264.43 564.70,266.28 564.50,270.00 C564.30,273.72 564.00,278.42 563.40,282.60 C562.80,286.78 562.27,290.92 560.90,295.10 C559.53,299.28 557.62,303.08 555.20,307.70 C552.78,312.32 548.83,319.08 546.40,322.80 C543.97,326.52 542.45,326.30 540.60,330.00 C538.75,333.70 537.07,339.37 535.30,345.00 C533.53,350.63 530.98,357.20 530.00,363.80 C529.02,370.40 529.50,381.13 529.40,384.60" fill="none" stroke="#2b2b2b" stroke-width="0.9" stroke-linecap="round"/>
<path d="M522.90,385.37 L522.90,387.04 A4.4,1.76 0 0 0 531.70,387.04 L531.70,385.37 A4.4,0.97 0 0 0 522.90,385.37 Z" fill="#fff" stroke="#2b2b2b" stroke-width="0.85"/>
<path d="M522.90,385.37 A4.4,0.97 0 0 0 531.70,385.37" fill="none" stroke="#2b2b2b" stroke-width="0.68"/>
<rect x="562.1" y="260.3" width="5" height="21" fill="#fff" stroke="#2b2b2b" stroke-width="0.8"/>
<path d="M563,262.3 L566.3,262.3" fill="none" stroke="#2b2b2b" stroke-width="0.6" stroke-linecap="round" stroke-linejoin="round"/>
<path d="M581.60,220.00 C580.55,222.10 577.18,227.98 575.30,232.60 C573.42,237.22 571.55,243.08 570.30,247.70 C569.05,252.32 568.33,256.58 567.80,260.30 C567.27,264.02 567.10,266.28 567.10,270.00 C567.10,273.72 567.27,278.00 567.80,282.60 C568.33,287.20 568.83,291.75 570.30,297.60 C571.77,303.45 574.67,312.30 576.60,317.70 C578.53,323.10 579.45,324.20 581.90,330.00 C584.35,335.80 588.65,344.68 591.30,352.50 C593.95,360.32 596.40,366.55 597.80,376.90 C599.20,387.25 599.38,408.32 599.70,414.60 L605.30,414.60 C604.98,408.32 604.80,387.57 603.40,376.90 C602.00,366.23 599.55,358.42 596.90,350.60 C594.25,342.78 589.85,335.05 587.50,330.00 C585.15,324.95 584.62,325.07 582.80,320.30 C580.98,315.53 578.27,307.27 576.60,301.40 C574.93,295.53 573.75,290.33 572.80,285.10 C571.85,279.87 571.12,274.13 570.90,270.00 C570.68,265.87 570.98,264.02 571.50,260.30 C572.02,256.58 572.75,252.32 574.00,247.70 C575.25,243.08 577.22,237.10 579.00,232.60 C580.78,228.10 583.75,222.68 584.70,220.70 Z" fill="#fff" stroke="none"/>
<path d="M581.60,220.00 C580.55,222.10 577.18,227.98 575.30,232.60 C573.42,237.22 571.55,243.08 570.30,247.70 C569.05,252.32 568.33,256.58 567.80,260.30 C567.27,264.02 567.10,266.28 567.10,270.00 C567.10,273.72 567.27,278.00 567.80,282.60 C568.33,287.20 568.83,291.75 570.30,297.60 C571.77,303.45 574.67,312.30 576.60,317.70 C578.53,323.10 579.45,324.20 581.90,330.00 C584.35,335.80 588.65,344.68 591.30,352.50 C593.95,360.32 596.40,366.55 597.80,376.90 C599.20,387.25 599.38,408.32 599.70,414.60" fill="none" stroke="#2b2b2b" stroke-width="0.9" stroke-linecap="round"/>
<path d="M584.70,220.70 C583.75,222.68 580.78,228.10 579.00,232.60 C577.22,237.10 575.25,243.08 574.00,247.70 C572.75,252.32 572.02,256.58 571.50,260.30 C570.98,264.02 570.68,265.87 570.90,270.00 C571.12,274.13 571.85,279.87 572.80,285.10 C573.75,290.33 574.93,295.53 576.60,301.40 C578.27,307.27 580.98,315.53 582.80,320.30 C584.62,325.07 585.15,324.95 587.50,330.00 C589.85,335.05 594.25,342.78 596.90,350.60 C599.55,358.42 602.00,366.23 603.40,376.90 C604.80,387.57 604.98,408.32 605.30,414.60" fill="none" stroke="#2b2b2b" stroke-width="0.9" stroke-linecap="round"/>
<path d="M597.80,415.51 L597.80,417.26 A4.7,1.84 0 0 0 607.20,417.26 L607.20,415.51 A4.7,1.01 0 0 0 597.80,415.51 Z" fill="#fff" stroke="#2b2b2b" stroke-width="0.85"/>
<path d="M597.80,415.51 A4.7,1.01 0 0 0 607.20,415.51" fill="none" stroke="#2b2b2b" stroke-width="0.68"/>
<path d="M526.90,217.50 C529.08,218.97 536.12,222.32 540.00,226.30 C543.88,230.28 547.45,236.17 550.20,241.40 C552.95,246.63 555.15,252.93 556.50,257.70 C557.85,262.47 558.30,265.85 558.30,270.00 C558.30,274.15 557.65,278.00 556.50,282.60 C555.35,287.20 554.13,291.75 551.40,297.60 C548.67,303.45 543.62,312.30 540.10,317.70 C536.58,323.10 534.90,324.20 530.30,330.00 C525.70,335.80 516.88,344.68 512.50,352.50 C508.12,360.32 505.82,367.82 504.00,376.90 C502.18,385.98 502.00,401.98 501.60,407.00 L506.50,407.00 C506.88,401.98 506.88,385.98 508.80,376.90 C510.72,367.82 513.47,360.32 518.00,352.50 C522.53,344.68 531.90,334.95 536.00,330.00 C540.10,325.05 539.82,326.73 542.60,322.80 C545.38,318.87 549.97,311.43 552.70,306.40 C555.43,301.37 557.53,296.78 559.00,292.60 C560.47,288.42 560.98,285.07 561.50,281.30 C562.02,277.53 562.20,273.50 562.10,270.00 C562.00,266.50 562.05,264.65 560.90,260.30 C559.75,255.95 557.40,249.15 555.20,243.90 C553.00,238.65 550.42,232.88 547.70,228.80 C544.98,224.72 540.37,220.97 538.90,219.40 Z" fill="#fff" stroke="none"/>
<path d="M526.90,217.50 C529.08,218.97 536.12,222.32 540.00,226.30 C543.88,230.28 547.45,236.17 550.20,241.40 C552.95,246.63 555.15,252.93 556.50,257.70 C557.85,262.47 558.30,265.85 558.30,270.00 C558.30,274.15 557.65,278.00 556.50,282.60 C555.35,287.20 554.13,291.75 551.40,297.60 C548.67,303.45 543.62,312.30 540.10,317.70 C536.58,323.10 534.90,324.20 530.30,330.00 C525.70,335.80 516.88,344.68 512.50,352.50 C508.12,360.32 505.82,367.82 504.00,376.90 C502.18,385.98 502.00,401.98 501.60,407.00" fill="none" stroke="#2b2b2b" stroke-width="0.9" stroke-linecap="round"/>
<path d="M538.90,219.40 C540.37,220.97 544.98,224.72 547.70,228.80 C550.42,232.88 553.00,238.65 555.20,243.90 C557.40,249.15 559.75,255.95 560.90,260.30 C562.05,264.65 562.00,266.50 562.10,270.00 C562.20,273.50 562.02,277.53 561.50,281.30 C560.98,285.07 560.47,288.42 559.00,292.60 C557.53,296.78 555.43,301.37 552.70,306.40 C549.97,311.43 545.38,318.87 542.60,322.80 C539.82,326.73 540.10,325.05 536.00,330.00 C531.90,334.95 522.53,344.68 518.00,352.50 C513.47,360.32 510.72,367.82 508.80,376.90 C506.88,385.98 506.88,401.98 506.50,407.00" fill="none" stroke="#2b2b2b" stroke-width="0.9" stroke-linecap="round"/>
<path d="M499.30,407.71 L499.30,409.46 A4.7,1.84 0 0 0 508.70,409.46 L508.70,407.71 A4.7,1.01 0 0 0 499.30,407.71 Z" fill="#fff" stroke="#2b2b2b" stroke-width="0.85"/>
<path d="M499.30,407.71 A4.7,1.01 0 0 0 508.70,407.71" fill="none" stroke="#2b2b2b" stroke-width="0.68"/>
<path d="M485.7,205.5 L485.9,208.5 C487,217 520,220.6 565.1,220.6 C610,220.6 643.5,217 644.3,208.5 L644.5,205.5 Z" fill="#fff" stroke="#2b2b2b" stroke-width="1"/>
<ellipse cx="565.1" cy="205.5" rx="79.4" ry="9.9" fill="#fff" stroke="#2b2b2b" stroke-width="1.3"/>
<line x1="490" y1="204.9" x2="640" y2="206.2" stroke="#111" stroke-width="1.5"/>
<polygon points="644,206.3 637.5,203.3 637.5,209.2" fill="#111"/>
<polygon points="486.2,204.9 492.5,202 492.5,207.9" fill="#111"/>
<circle cx="548.8" cy="200.7" r="2.4" fill="none" stroke="#111" stroke-width="0.8"/><line x1="547.2" y1="203.5" x2="550.4" y2="197.9" stroke="#111" stroke-width="0.7"/>
<text x="569.5" y="204" font-size="11" font-weight="bold" text-anchor="middle" fill="#111" stroke="#111" stroke-width="0.3" textLength="29.5" lengthAdjust="spacingAndGlyphs">60 cm</text>
<line x1="616.00" y1="206.30" x2="616.00" y2="210.00" stroke="#111" stroke-width="1.4"/>
<polygon points="616.00,214.00 612.60,209.00 619.40,209.00" fill="#111"/>
<line x1="616.00" y1="229.30" x2="616.00" y2="221.80" stroke="#111" stroke-width="1.4"/>
<polygon points="616.00,217.80 619.40,222.80 612.60,222.80" fill="#111"/>
<text x="634" y="226.2" font-size="11" font-weight="bold" text-anchor="middle" fill="#111" stroke="#111" stroke-width="0.3" textLength="23" lengthAdjust="spacingAndGlyphs">2 cm</text>
<line x1="481.00" y1="210.34" x2="481.00" y2="404.16" stroke="#111" stroke-width="1.55"/>
<polygon points="481.00,205.70 477.80,211.50 484.20,211.50" fill="#111"/>
<polygon points="481.00,408.80 477.80,403.00 484.20,403.00" fill="#111"/>
<text x="478.5" y="294.5" font-size="11" font-weight="bold" text-anchor="middle" fill="#111" stroke="#111" stroke-width="0.3" textLength="29" lengthAdjust="spacingAndGlyphs" transform="rotate(-90 478.5 294.5)">75 cm</text>
<line x1="509.13" y1="410.29" x2="594.17" y2="415.71" stroke="#111" stroke-width="1.55"/>
<polygon points="504.50,410.00 510.09,413.56 510.49,407.17" fill="#111"/>
<polygon points="598.80,416.00 592.81,418.83 593.21,412.44" fill="#111"/>
<text x="555.3" y="423" font-size="11" font-weight="bold" text-anchor="middle" fill="#111" stroke="#111" stroke-width="0.3" textLength="29.5" lengthAdjust="spacingAndGlyphs">36 cm</text>
<line x1="500.13" y1="422.27" x2="600.87" y2="428.03" stroke="#111" stroke-width="1.55"/>
<polygon points="495.50,422.00 501.11,425.53 501.47,419.14" fill="#111"/>
<polygon points="605.50,428.30 599.53,431.16 599.89,424.77" fill="#111"/>
<text x="551.3" y="435.5" font-size="11" font-weight="bold" text-anchor="middle" fill="#111" stroke="#111" stroke-width="0.3" textLength="30" lengthAdjust="spacingAndGlyphs">42 cm</text>
<line x1="609.29" y1="411.57" x2="617.61" y2="396.93" stroke="#111" stroke-width="1.55"/>
<polygon points="607.00,415.60 612.65,412.14 607.08,408.98" fill="#111"/>
<polygon points="619.90,392.90 619.82,399.52 614.25,396.36" fill="#111"/>
<text x="625.4" y="407.2" font-size="11" font-weight="bold" text-anchor="middle" fill="#111" stroke="#111" stroke-width="0.3" textLength="29" lengthAdjust="spacingAndGlyphs" transform="rotate(-58 625.4 407.2)">35 cm</text>
<line x1="625.23" y1="415.73" x2="636.37" y2="395.47" stroke="#111" stroke-width="1.55"/>
<polygon points="623.00,419.80 628.60,416.26 622.99,413.18" fill="#111"/>
<polygon points="638.60,391.40 638.61,398.02 633.00,394.94" fill="#111"/>
<text x="643.3" y="411" font-size="11" font-weight="bold" text-anchor="middle" fill="#111" stroke="#111" stroke-width="0.3" textLength="29.5" lengthAdjust="spacingAndGlyphs" transform="rotate(-58 643.3 411)">41 cm</text>
<text x="631.3" y="461.2" font-size="11" font-weight="bold" text-anchor="middle" fill="#111" stroke="#111" stroke-width="0.3" textLength="40" lengthAdjust="spacingAndGlyphs">+/- 2 cm</text>
</svg>
</body></html>
